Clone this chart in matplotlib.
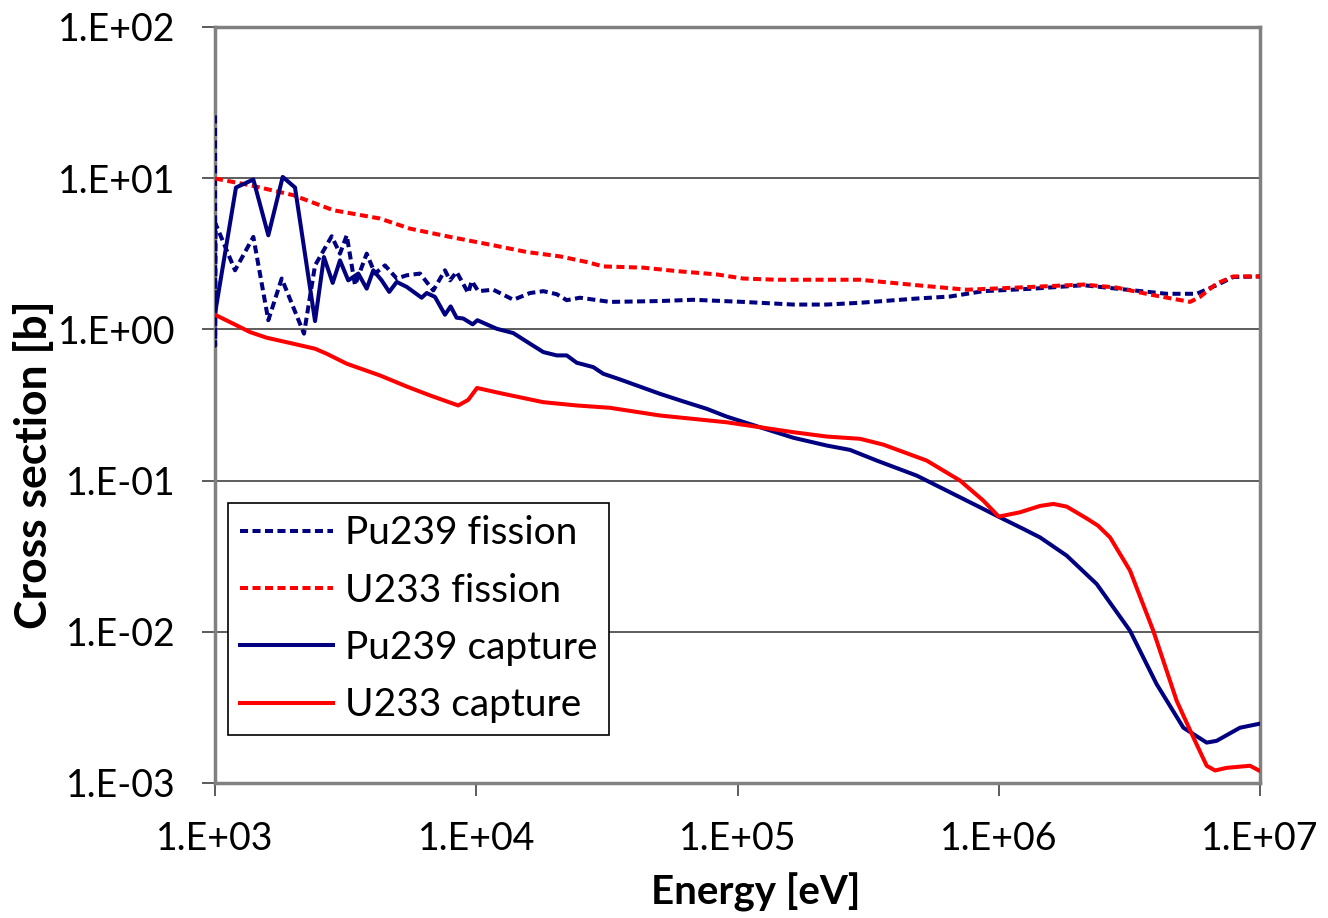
import matplotlib
matplotlib.use("agg")
import matplotlib.pyplot as plt
from matplotlib.ticker import FixedLocator, NullLocator

plt.rcParams["font.family"] = ["Lato", "DejaVu Sans"]

# energies in eV, cross sections in barns
pu_fis_e = [1000, 1001, 1005, 1193, 1402, 1600, 1800, 2191, 2415, 2797, 3009,
            3193, 3435, 3808, 4096, 4474, 4961, 5420, 6091, 6847, 7590, 7936,
            8410, 9320, 9610, 10180, 11620, 13870, 16060, 18060, 20320, 22200,
            24950, 32510, 50470, 67700, 105200, 163600, 219500, 294400, 361400,
            485300, 651000, 873000, 1.355e6, 2.107e6, 2.828e6, 4.395e6, 5.72e6,
            6.82e6, 7.9e6, 1e7]
pu_fis = [26.0, 0.78, 5.0, 2.46, 4.09, 1.15, 2.17, 0.937, 2.65, 4.13, 3.17,
          4.19, 1.96, 3.17, 2.34, 2.65, 2.17, 2.28, 2.34, 1.81, 2.46, 2.11,
          2.40, 1.74, 2.09, 1.79, 1.83, 1.57, 1.74, 1.79, 1.71, 1.56,
          1.62, 1.52, 1.54, 1.57, 1.52, 1.46, 1.46, 1.50, 1.54,
          1.60, 1.65, 1.79, 1.86, 1.96, 1.86, 1.72, 1.72,
          1.96, 2.22, 2.24]

u_fis_e = [1000, 1361, 1994, 2837, 4281, 5572, 7936, 11620, 15600, 20920, 26470,
           30620, 43590, 58480, 83230, 105200, 141200, 294400, 485300, 753900,
           1.172e6, 2.107e6, 2.828e6, 3.793e6, 5.4e6, 5.89e6, 6.82e6, 7.9e6, 1e7]
u_fis = [9.95, 8.99, 7.72, 6.14, 5.41, 4.64, 4.09, 3.60, 3.25, 3.04, 2.79,
         2.61, 2.56, 2.43, 2.31, 2.17, 2.13, 2.13, 1.96, 1.83,
         1.89, 1.98, 1.89, 1.70, 1.52, 1.64, 2.01, 2.24, 2.24]

pu_cap_e = [1000, 1203, 1402, 1600, 1816, 2024, 2415, 2612, 2822, 3009, 3236,
            3536, 3808, 4036, 4345, 4645, 4961, 5420, 6180, 6460, 6950, 7590,
            7980, 8410, 8920, 9690, 10100, 11970, 13870, 16060, 18060, 20320,
            22200, 24240, 28050, 30620, 35480, 41110, 50470, 62010, 76210,
            90930, 121900, 163600, 219500, 269600, 341100, 485300, 651000,
            823400, 1.011e6, 1.242e6, 1.439e6, 1.82e6, 2.371e6, 3.18e6, 4.02e6,
            5.09e6, 6.25e6, 6.82e6, 8.38e6, 1e7]
pu_cap = [1.27, 8.68, 9.8, 4.19, 10.2, 8.68, 1.135, 3.01, 2.03, 2.86, 2.11,
          2.34, 1.86, 2.46, 2.11, 1.77, 2.06, 1.91, 1.62, 1.74, 1.64, 1.25,
          1.42, 1.195, 1.18, 1.08, 1.15, 1.01, 0.945, 0.804, 0.708, 0.673,
          0.673, 0.602, 0.563, 0.509, 0.467, 0.426, 0.375, 0.334, 0.2985,
          0.265, 0.2254, 0.192, 0.1706, 0.1596, 0.1357, 0.1079, 0.0837,
          0.0683, 0.0571, 0.0479, 0.0421, 0.0319, 0.0207, 0.01016, 0.00451,
          0.00232, 0.00185, 0.0019, 0.00232, 0.00247]

u_cap_e = [1000, 1175, 1361, 1577, 1994, 2415, 2677, 3193, 4281, 5420, 6650,
           8530, 9320, 10070, 12330, 18060, 24240, 32510, 50470, 67700, 90930,
           121900, 163600, 219500, 294400, 361400, 529700, 711200, 873000,
           1.0e6, 1.205e6, 1.439e6, 1.618e6, 1.82e6, 2.171e6, 2.4e6, 2.667e6,
           3.18e6, 3.904e6, 4.8e6, 5.56e6, 6.25e6, 6.73e6, 7.46e6, 9.16e6, 1e7]
u_cap = [1.25, 1.09, 0.96, 0.881, 0.804, 0.745, 0.690, 0.593, 0.496, 0.419,
         0.366, 0.314, 0.342, 0.410, 0.379, 0.330, 0.314, 0.303, 0.2695,
         0.256, 0.243, 0.2254, 0.209, 0.1956, 0.189, 0.173, 0.1357, 0.100,
         0.0737, 0.0578, 0.0617, 0.068, 0.0701, 0.0673, 0.0562, 0.0503,
         0.0421, 0.0254, 0.01016, 0.00349, 0.0020, 0.0013, 0.00121, 0.00126,
         0.0013, 0.0012]

x_ticks = [1e3, 1e4, 1e5, 1e6, 1e7]
x_labels = ["1.E+03", "1.E+04", "1.E+05", "1.E+06", "1.E+07"]
y_ticks = [1e-3, 1e-2, 1e-1, 1e0, 1e1, 1e2]
y_labels = ["1.E-03", "1.E-02", "1.E-01", "1.E+00", "1.E+01", "1.E+02"]

navy = "#000080"
red = "#FF0000"

W, H = 1328, 918
fig = plt.figure(figsize=(W / 100, H / 100), dpi=100)
ax = fig.add_axes([215 / W, 1 - 783 / H, 1045 / W, 756 / H])

lw = 2.9
dash = (0, (2.0, 1.1))
ax.plot(pu_fis_e, pu_fis, color=navy, lw=lw, ls=dash, label="Pu239 fission", zorder=3)
ax.plot(u_fis_e, u_fis, color=red, lw=lw, ls=dash, label="U233 fission", zorder=3)
ax.plot(pu_cap_e, pu_cap, color=navy, lw=lw, label="Pu239 capture", zorder=3)
ax.plot(u_cap_e, u_cap, color=red, lw=lw, label="U233 capture", zorder=3)

ax.set_xscale("log")
ax.set_yscale("log")
ax.set_xlim(1e3, 1e7)
ax.set_ylim(1e-3, 1e2)

ax.xaxis.set_major_locator(FixedLocator(x_ticks))
ax.yaxis.set_major_locator(FixedLocator(y_ticks))
ax.xaxis.set_minor_locator(NullLocator())
ax.yaxis.set_minor_locator(NullLocator())
ax.set_xticklabels(x_labels)
ax.set_yticklabels(y_labels)
ax.tick_params(axis="both", which="major", labelsize=27, direction="out",
               length=9.5, width=1.2, color="#404040")
ax.tick_params(axis="y", pad=19)
ax.tick_params(axis="x", pad=18)

ax.yaxis.grid(True, color="#505050", lw=1.3)
ax.set_axisbelow(True)
for s in ax.spines.values():
    s.set_color("#808080")
    s.set_linewidth(2.5)

# axis titles placed like the original
fig.text(756 / W, 1 - 905 / H, "Energy [eV]", fontsize=29, fontweight="bold",
         ha="center", va="baseline")
fig.text(34 / W, 1 - 465 / H, "Cross section [b]", fontsize=32,
         fontweight="bold", rotation=90, ha="center", va="center")

leg = ax.legend(loc="lower left", bbox_to_anchor=(0.0124, 0.0635), fontsize=28,
                handlelength=2.4, handletextpad=0.3, labelspacing=0.55,
                borderpad=0.3, borderaxespad=0, fancybox=False, framealpha=1)
leg.set_zorder(5)
leg.get_frame().set_edgecolor("black")
leg.get_frame().set_linewidth(1.2)

fig.savefig("out.png", dpi=100)
